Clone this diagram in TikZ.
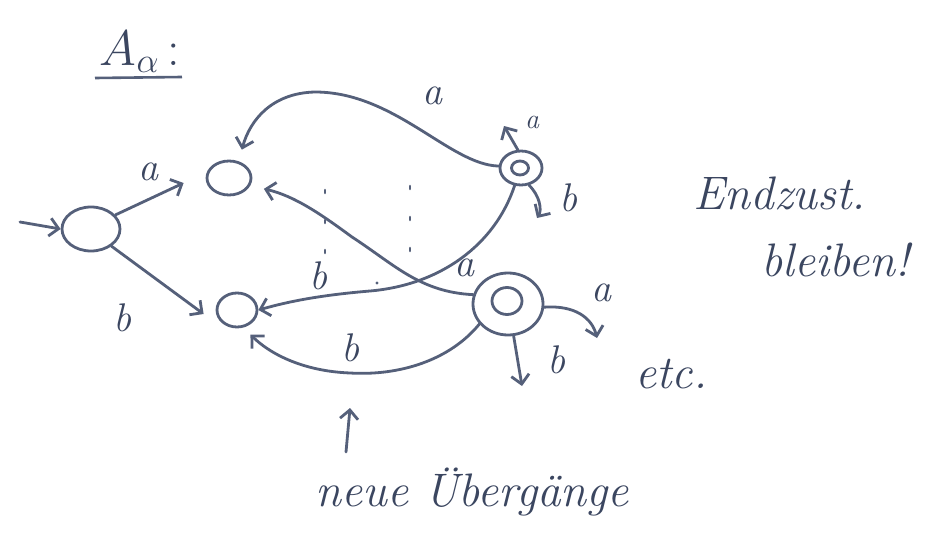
\documentclass[tikz,border=0pt]{standalone}
\usepackage{fix-cm}
\usetikzlibrary{arrows.meta,shapes.geometric}
\definecolor{ink}{HTML}{3B4660}
\definecolor{pen}{HTML}{55607A}
\begin{document}
\begin{tikzpicture}[x=1pt,y=-1pt,
  state/.style={draw=pen,line width=2.8pt,ellipse,inner sep=0pt},
  edge/.style={draw=pen,line width=2.8pt,line cap=round,
    -{Straight Barb[length=9pt,width=18pt,line width=2.8pt]}},
  lbl/.style={text=ink,font=\fontsize{40}{42}\selectfont\itshape},
  tinylbl/.style={text=ink,font=\fontsize{28}{30}\selectfont\itshape},
  note/.style={text=ink,font=\fontsize{47}{50}\selectfont\itshape,anchor=west},
  marks/.style={draw=pen,line width=2.6pt,line cap=round}]
\useasboundingbox[fill=white] (0,0) rectangle (935,551);

% title
\node[text=ink,font=\fontsize{50}{54}\selectfont] (title) at (140,52) {$A_{\alpha}$\,:};
\draw[pen,line width=2.6pt] (95,78) -- (182,77);

% states
\node[state,minimum width=58pt,minimum height=44pt] (q0) at (91,229) {};
\node[state,minimum width=44pt,minimum height=34pt] (q1) at (229,178) {};
\node[state,minimum width=40pt,minimum height=34pt] (q2) at (237,310) {};
\node[state,minimum width=42pt,minimum height=34pt] (q3) at (521,168) {};
\node[state,minimum width=17pt,minimum height=14pt] (q3i) at (520,168) {};
\node[state,minimum width=70pt,minimum height=62pt] (q4) at (508,304) {};
\node[state,minimum width=30pt,minimum height=27pt] (q4i) at (507,301) {};

% free ends of the entry arrow and the loops
\coordinate (in) at (20,222);
\coordinate (q3a) at (504,126);
\coordinate (q3b) at (537,218);
\coordinate (q4a) at (597,338);
\coordinate (q4b) at (522,386);
\coordinate (nb) at (346,452);
\coordinate (nt) at (350,408);

% entry arrow
\draw[edge] (in) -- (q0.west);

% original transitions
\draw[edge] (q0.30) -- ([shift={(-22,5)}]q1.west);
\node[lbl] (la1) at (148,172) {a};
\draw[edge] (q0.-40) -- ([shift={(-12,4)}]q2.west);
\node[lbl] (lb1) at (122,318) {b};

% transitions from the first final state
\draw[edge,shorten >=12pt] (q3.175) .. controls (450,165) and (395,92) .. (315,92)
  .. controls (272,93) and (250,120) .. (q1.60);
\node[lbl] (la2) at (432,96) {a};
\draw[edge] (q3.100) -- (q3a);
\node[tinylbl] (la3) at (532,122) {a};
\draw[edge] (q3.-65) .. controls (540,196) and (542,210) .. (q3b);
\node[lbl] (lb2) at (568,198) {b};
\draw[edge] (q3.250) .. controls (495,245) and (440,285) .. (370,291)
  .. controls (310,296) and (280,304) .. (q2.east);
\node[lbl] (lb3) at (318,276) {b};

% transitions from the second final state
\draw[edge,shorten >=14pt] (q4.165) .. controls (420,292) and (395,265) .. (352,237)
  .. controls (322,215) and (295,196) .. (q1.-20);
\node[lbl] (la4) at (464,268) {a};
\draw[edge,shorten >=10pt] (q4.215) .. controls (450,360) and (400,376) .. (350,373)
  .. controls (300,371) and (268,352) .. (q2.-70);
\node[lbl] (lb4) at (350,348) {b};
\draw[edge] (q4.-5) .. controls (575,305) and (592,318) .. (q4a);
\node[lbl] (la5) at (601,293) {a};
\draw[edge] (q4.-80) -- (q4b);
\node[lbl] (lb5) at (556,360) {b};

% dotted guide lines
\draw[marks,dash pattern=on 3pt off 27pt] (325,190) -- (325,270);
\draw[marks,dash pattern=on 3pt off 28pt] (410,186) -- (410,262);
\fill[pen] (377,283) circle (1.7pt);

% annotations
\node[note] (etc) at (632,374) {etc.};
\node[note] (end1) at (690,193) {Endzust.};
\node[note] (end2) at (758,260) {bleiben!};
\draw[edge] (nb) -- (nt);
\node[note] (neu) at (312,492) {neue Übergänge};
\end{tikzpicture}
\end{document}
